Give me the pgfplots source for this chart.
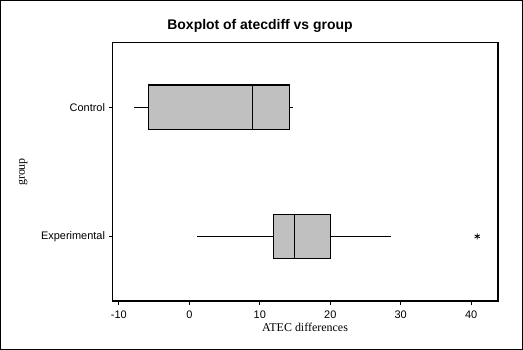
\documentclass[border=0pt]{standalone}
\usepackage{fontspec}
\setmainfont{Liberation Serif}
\newfontfamily\tickfont{Liberation Sans}
\usepackage{pgfplots}
\pgfplotsset{compat=1.18}
\usepgfplotslibrary{statistics}
\definecolor{boxgray}{RGB}{192,192,192}
\begin{document}
\begin{tikzpicture}
\useasboundingbox (0bp,0bp) rectangle (523bp,350bp);
\draw[line width=1bp] (0.5bp,0.5bp) rectangle (522.5bp,349.5bp);
\begin{axis}[
  at={(112.5bp,49bp)}, anchor=south west, scale only axis,
  width=385.5bp, height=258.5bp,
  xmin=-10.9, xmax=43.8, ymin=0.5, ymax=2.5,
  xtick={-10,0,10,20,30,40}, ytick={1,2}, yticklabels={Experimental,Control},
  tick align=outside, major tick length=4bp, xtick pos=bottom, ytick pos=left,
  axis line style={line width=1.1bp}, tick style={black, line width=1.1bp},
  /pgf/number format/assume math mode=true,
  xticklabel style={font=\tickfont\fontsize{11}{12}\selectfont, yshift=-2bp},
  yticklabel style={font=\tickfont\fontsize{11}{13}\selectfont},
  boxplot/draw direction=x,
  boxplot/box extend=0.342,
  boxplot/whisker extend=0,
]
\addplot[boxplot prepared={draw position=2, lower whisker=-7.8, lower quartile=-5.76,
  median=8.94, upper quartile=14.18, upper whisker=14.75},
  draw=black, fill=boxgray, line width=1.1bp] coordinates {};
\addplot[boxplot prepared={draw position=1, lower whisker=1.13, lower quartile=11.97,
  median=14.95, upper quartile=20.0, upper whisker=28.65},
  draw=black, fill=boxgray, line width=1.1bp, mark=asterisk,
  mark options={line width=0.8bp, fill=none}, mark size=3bp]
  table[row sep=\\, y index=0] {data\\ 40.85\\};
\end{axis}
\node[font=\tickfont\bfseries\fontsize{14}{16}\selectfont] at (260bp,324.5bp) {Boxplot of atecdiff vs group};
\node[font=\fontsize{12}{14}\selectfont] at (305bp,22.3bp) {ATEC differences};
\node[rotate=90, font=\fontsize{12}{14}\selectfont] at (23bp,178bp) {group};
\end{tikzpicture}
\end{document}
